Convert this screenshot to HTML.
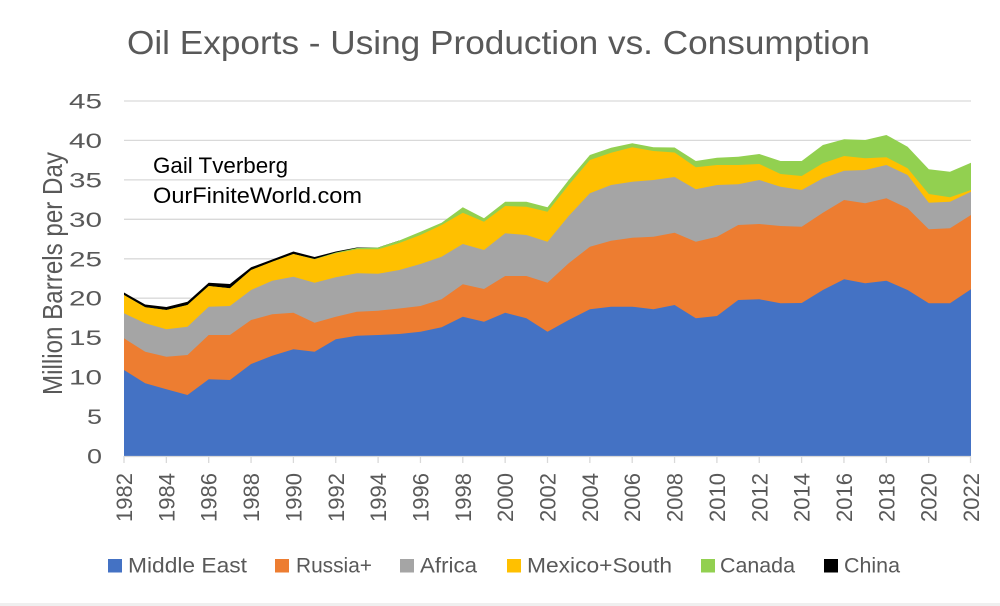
<!DOCTYPE html>
<html>
<head>
<meta charset="utf-8">
<style>
html,body{margin:0;padding:0;background:#fff;}
body{width:1000px;height:606px;overflow:hidden;}
svg{display:block;}
text{font-family:"Liberation Sans",sans-serif;}
</style>
</head>
<body>
<svg width="1000" height="606" viewBox="0 0 1000 606" xmlns="http://www.w3.org/2000/svg">
<rect x="0" y="0" width="1000" height="606" fill="#ffffff"/>
<rect x="0" y="603" width="1000" height="3" fill="#efefef"/>

<!-- Title -->
<text x="127" y="54" font-size="33" fill="#595959" textLength="743" lengthAdjust="spacingAndGlyphs">Oil Exports - Using Production vs. Consumption</text>

<!-- Gridlines -->
<g stroke="#d9d9d9" stroke-width="1.3">
<line x1="124" y1="101" x2="971" y2="101"/>
<line x1="124" y1="140.4" x2="971" y2="140.4"/>
<line x1="124" y1="179.9" x2="971" y2="179.9"/>
<line x1="124" y1="219.3" x2="971" y2="219.3"/>
<line x1="124" y1="258.8" x2="971" y2="258.8"/>
<line x1="124" y1="298.2" x2="971" y2="298.2"/>
<line x1="124" y1="337.7" x2="971" y2="337.7"/>
<line x1="124" y1="377.1" x2="971" y2="377.1"/>
<line x1="124" y1="416.6" x2="971" y2="416.6"/>
</g>

<!-- China (black) -->
<polygon fill="#000000" points="124,456 124,292.5 145.2,304.5 166.4,307 187.5,301.7 208.7,282.7 229.9,284 251.1,267.3 272.2,259.5 293.4,251.5 314.6,257 335.8,251.5 356.9,247.5 378.1,247.5 399.3,240.5 399.3,456"/>
<!-- Canada (green) -->
<polygon fill="#92D050" points="124,456 124,295 145.2,307.3 166.4,310 187.5,305 208.7,286 229.9,288.3 251.1,270 272.2,261.7 293.4,254 314.6,259 335.8,252.5 356.9,248 378.1,247.5 399.3,240.5 420.5,231.7 441.6,222.7 462.8,207.3 484,218.3 505.2,201.7 526.4,201.7 547.5,207.3 568.7,180 589.9,155 611.1,147.7 632.3,143.3 653.4,147.3 674.6,147.5 695.8,161 717,157.7 738.2,156.7 759.3,154 780.5,161 801.7,161 822.9,145 844.1,139.3 865.2,140 886.4,135 907.6,146.7 928.8,169.3 950,171.7 971,162.7 971,456"/>
<!-- Mexico+South (yellow) -->
<polygon fill="#FFC000" points="124,456 124,295 145.2,307.3 166.4,310 187.5,305 208.7,286 229.9,288.3 251.1,270 272.2,261.7 293.4,254 314.6,259.3 335.8,253.3 356.9,249.3 378.1,249.3 399.3,243 420.5,235 441.6,225 462.8,212.7 484,221.7 505.2,206 526.4,206.7 547.5,211.7 568.7,185 589.9,160 611.1,152.7 632.3,147.3 653.4,151 674.6,152.5 695.8,167.3 717,165 738.2,165 759.3,164 780.5,174 801.7,176 822.9,163.3 844.1,156 865.2,158.3 886.4,157.3 907.6,168.3 928.8,194 950,197.3 971,190 971,456"/>
<!-- Africa (gray) -->
<polygon fill="#A5A5A5" points="124,456 124,313.3 145.2,323.3 166.4,329.3 187.5,326.7 208.7,306.7 229.9,306 251.1,290 272.2,280.7 293.4,276.7 314.6,282.7 335.8,277.3 356.9,273.3 378.1,273.7 399.3,270 420.5,264 441.6,256.7 462.8,244 484,250 505.2,233.3 526.4,235 547.5,241.7 568.7,216 589.9,193.3 611.1,185 632.3,181.7 653.4,180 674.6,177 695.8,189.3 717,185 738.2,184.3 759.3,180 780.5,186.7 801.7,190 822.9,178.3 844.1,170.7 865.2,170 886.4,165 907.6,175 928.8,202.7 950,201.7 971,191.7 971,456"/>
<!-- Russia+ (orange) -->
<polygon fill="#ED7D31" points="124,456 124,338.3 145.2,351.7 166.4,356.7 187.5,355 208.7,335 229.9,335 251.1,320 272.2,314.3 293.4,312.7 314.6,322.7 335.8,316.7 356.9,311.7 378.1,310.7 399.3,308.5 420.5,306 441.6,299.3 462.8,284.3 484,289 505.2,276 526.4,276 547.5,282.7 568.7,263.3 589.9,246.7 611.1,240.7 632.3,237.7 653.4,236.7 674.6,232.7 695.8,241.7 717,236.7 738.2,225 759.3,224 780.5,226 801.7,226.7 822.9,212.7 844.1,200 865.2,203.3 886.4,198.3 907.6,208.3 928.8,229.3 950,228.3 971,215 971,456"/>
<!-- Middle East (blue) -->
<polygon fill="#4472C4" points="124,456 124,370 145.2,383.3 166.4,389.3 187.5,395 208.7,379.3 229.9,380 251.1,364 272.2,355.7 293.4,349.3 314.6,351.7 335.8,339.3 356.9,335.7 378.1,335 399.3,334 420.5,331.7 441.6,327.3 462.8,316.7 484,321.7 505.2,312.7 526.4,318.3 547.5,331.7 568.7,320 589.9,309.3 611.1,306.7 632.3,306.7 653.4,309.3 674.6,305 695.8,318.3 717,316 738.2,300 759.3,299.3 780.5,303.3 801.7,303 822.9,290 844.1,279.3 865.2,283.3 886.4,280.7 907.6,290 928.8,303.3 950,303.3 971,289.3 971,456"/>

<!-- X axis -->
<line x1="124" y1="456.5" x2="971" y2="456.5" stroke="#d9d9d9" stroke-width="1.3"/>
<g stroke="#d9d9d9" stroke-width="1.3">
<line x1="124" y1="456" x2="124" y2="463"/>
<line x1="166.35" y1="456" x2="166.35" y2="463"/>
<line x1="208.7" y1="456" x2="208.7" y2="463"/>
<line x1="251.05" y1="456" x2="251.05" y2="463"/>
<line x1="293.4" y1="456" x2="293.4" y2="463"/>
<line x1="335.75" y1="456" x2="335.75" y2="463"/>
<line x1="378.1" y1="456" x2="378.1" y2="463"/>
<line x1="420.45" y1="456" x2="420.45" y2="463"/>
<line x1="462.8" y1="456" x2="462.8" y2="463"/>
<line x1="505.15" y1="456" x2="505.15" y2="463"/>
<line x1="547.5" y1="456" x2="547.5" y2="463"/>
<line x1="589.85" y1="456" x2="589.85" y2="463"/>
<line x1="632.2" y1="456" x2="632.2" y2="463"/>
<line x1="674.55" y1="456" x2="674.55" y2="463"/>
<line x1="716.9" y1="456" x2="716.9" y2="463"/>
<line x1="759.25" y1="456" x2="759.25" y2="463"/>
<line x1="801.6" y1="456" x2="801.6" y2="463"/>
<line x1="843.95" y1="456" x2="843.95" y2="463"/>
<line x1="886.3" y1="456" x2="886.3" y2="463"/>
<line x1="928.65" y1="456" x2="928.65" y2="463"/>
<line x1="970.5" y1="456" x2="970.5" y2="463"/>
</g>

<!-- Y tick labels -->
<g font-size="21" fill="#595959" text-anchor="end">
<text x="102" y="108.5" textLength="33" lengthAdjust="spacingAndGlyphs">45</text>
<text x="102" y="147.9" textLength="33" lengthAdjust="spacingAndGlyphs">40</text>
<text x="102" y="187.4" textLength="33" lengthAdjust="spacingAndGlyphs">35</text>
<text x="102" y="226.8" textLength="33" lengthAdjust="spacingAndGlyphs">30</text>
<text x="102" y="266.3" textLength="33" lengthAdjust="spacingAndGlyphs">25</text>
<text x="102" y="305.7" textLength="33" lengthAdjust="spacingAndGlyphs">20</text>
<text x="102" y="345.2" textLength="33" lengthAdjust="spacingAndGlyphs">15</text>
<text x="102" y="384.6" textLength="33" lengthAdjust="spacingAndGlyphs">10</text>
<text x="102" y="424.1" textLength="15" lengthAdjust="spacingAndGlyphs">5</text>
<text x="102" y="463.5" textLength="15" lengthAdjust="spacingAndGlyphs">0</text>
</g>

<!-- Y axis title -->
<text transform="translate(62,273.5) scale(1.2,1) rotate(-90)" font-size="23" fill="#595959" text-anchor="middle" textLength="243" lengthAdjust="spacingAndGlyphs">Million Barrels per Day</text>

<!-- X tick labels -->
<g font-size="22" fill="#595959" text-anchor="end">
<text transform="translate(132,473) rotate(-90)" textLength="49" lengthAdjust="spacingAndGlyphs">1982</text>
<text transform="translate(174.35,473) rotate(-90)" textLength="49" lengthAdjust="spacingAndGlyphs">1984</text>
<text transform="translate(216.7,473) rotate(-90)" textLength="49" lengthAdjust="spacingAndGlyphs">1986</text>
<text transform="translate(259.05,473) rotate(-90)" textLength="49" lengthAdjust="spacingAndGlyphs">1988</text>
<text transform="translate(301.4,473) rotate(-90)" textLength="49" lengthAdjust="spacingAndGlyphs">1990</text>
<text transform="translate(343.75,473) rotate(-90)" textLength="49" lengthAdjust="spacingAndGlyphs">1992</text>
<text transform="translate(386.1,473) rotate(-90)" textLength="49" lengthAdjust="spacingAndGlyphs">1994</text>
<text transform="translate(428.45,473) rotate(-90)" textLength="49" lengthAdjust="spacingAndGlyphs">1996</text>
<text transform="translate(470.8,473) rotate(-90)" textLength="49" lengthAdjust="spacingAndGlyphs">1998</text>
<text transform="translate(513.15,473) rotate(-90)" textLength="49" lengthAdjust="spacingAndGlyphs">2000</text>
<text transform="translate(555.5,473) rotate(-90)" textLength="49" lengthAdjust="spacingAndGlyphs">2002</text>
<text transform="translate(597.85,473) rotate(-90)" textLength="49" lengthAdjust="spacingAndGlyphs">2004</text>
<text transform="translate(640.2,473) rotate(-90)" textLength="49" lengthAdjust="spacingAndGlyphs">2006</text>
<text transform="translate(682.55,473) rotate(-90)" textLength="49" lengthAdjust="spacingAndGlyphs">2008</text>
<text transform="translate(724.9,473) rotate(-90)" textLength="49" lengthAdjust="spacingAndGlyphs">2010</text>
<text transform="translate(767.25,473) rotate(-90)" textLength="49" lengthAdjust="spacingAndGlyphs">2012</text>
<text transform="translate(809.6,473) rotate(-90)" textLength="49" lengthAdjust="spacingAndGlyphs">2014</text>
<text transform="translate(851.95,473) rotate(-90)" textLength="49" lengthAdjust="spacingAndGlyphs">2016</text>
<text transform="translate(894.3,473) rotate(-90)" textLength="49" lengthAdjust="spacingAndGlyphs">2018</text>
<text transform="translate(936.65,473) rotate(-90)" textLength="49" lengthAdjust="spacingAndGlyphs">2020</text>
<text transform="translate(979,473) rotate(-90)" textLength="49" lengthAdjust="spacingAndGlyphs">2022</text>
</g>

<!-- Annotation -->
<text x="153" y="173" font-size="22" fill="#000000" textLength="135" lengthAdjust="spacingAndGlyphs">Gail Tverberg</text>
<text x="153" y="203" font-size="22" fill="#000000" textLength="209" lengthAdjust="spacingAndGlyphs">OurFiniteWorld.com</text>

<!-- Legend -->
<rect x="108" y="559" width="14" height="13.5" fill="#4472C4"/>
<text x="128" y="572.5" font-size="21" fill="#595959" textLength="119" lengthAdjust="spacingAndGlyphs">Middle East</text>
<rect x="275" y="559" width="14" height="13.5" fill="#ED7D31"/>
<text x="296" y="572.5" font-size="21" fill="#595959" textLength="76" lengthAdjust="spacingAndGlyphs">Russia+</text>
<rect x="400" y="559" width="14" height="13.5" fill="#A5A5A5"/>
<text x="420" y="572.5" font-size="21" fill="#595959" textLength="57" lengthAdjust="spacingAndGlyphs">Africa</text>
<rect x="507" y="559" width="14" height="13.5" fill="#FFC000"/>
<text x="527" y="572.5" font-size="21" fill="#595959" textLength="145" lengthAdjust="spacingAndGlyphs">Mexico+South</text>
<rect x="701" y="559" width="14" height="13.5" fill="#92D050"/>
<text x="720" y="572.5" font-size="21" fill="#595959" textLength="75" lengthAdjust="spacingAndGlyphs">Canada</text>
<rect x="824" y="559" width="14" height="13.5" fill="#000000"/>
<text x="844" y="572.5" font-size="21" fill="#595959" textLength="56" lengthAdjust="spacingAndGlyphs">China</text>
</svg>
</body>
</html>
